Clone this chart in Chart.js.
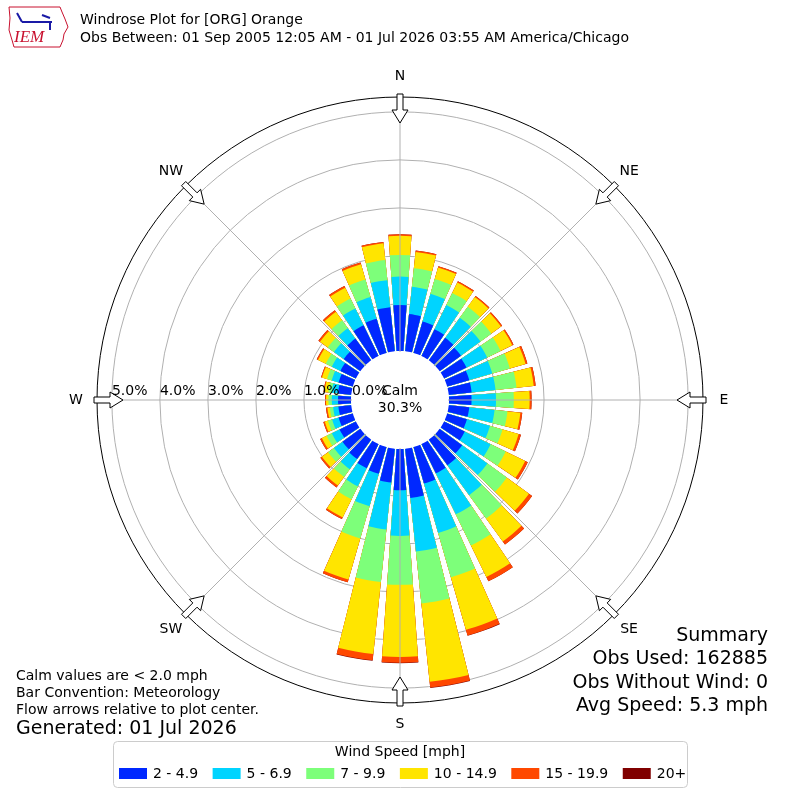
<!DOCTYPE html>
<html>
<head>
<meta charset="utf-8">
<title>Windrose Plot for [ORG] Orange</title>
<script src="https://cdn.jsdelivr.net/npm/chart.js@4.4.0/dist/chart.umd.min.js"></script>
<style>
  html, body { margin: 0; padding: 0; background: #fff; }
</style>
</head>
<body>
<canvas id="rose" width="800" height="800"></canvas>
<script>
// bar directions, degrees clockwise from north
const directions = [0, 10, 20, 30, 40, 50, 60, 70, 80, 90, 100, 110, 120, 130, 140, 150, 160, 170,
  180, 190, 200, 210, 220, 230, 240, 250, 260, 270, 280, 290, 300, 310, 320, 330, 340, 350]

const speedBins = ['2 - 4.9', '5 - 6.9', '7 - 9.9', '10 - 14.9', '15 - 19.9', '20+']
const binColors = ['#0028ff', '#00d4ff', '#7dff7a', '#ffe500', '#ff4800', '#800000']

// percent of all obs, per direction, one list per speed bin
const pct2to5 = [0.98, 0.80, 0.70, 0.64, 0.60, 0.57, 0.54, 0.50, 0.50, 0.49, 0.45, 0.45, 0.50, 0.60, 0.68, 0.70, 0.81, 1.05,
  0.88, 0.73, 0.60, 0.58, 0.52, 0.48, 0.40, 0.33, 0.29, 0.29, 0.30, 0.33, 0.38, 0.45, 0.58, 0.73, 0.76, 0.94]
const pct5to7 = [0.59, 0.57, 0.60, 0.56, 0.52, 0.50, 0.48, 0.50, 0.50, 0.51, 0.53, 0.50, 0.60, 0.65, 0.77, 0.95, 1.07, 1.12,
  0.95, 0.98, 0.70, 0.42, 0.26, 0.22, 0.18, 0.14, 0.11, 0.13, 0.13, 0.15, 0.20, 0.25, 0.27, 0.39, 0.47, 0.57]
const pct7to10 = [0.45, 0.39, 0.32, 0.28, 0.28, 0.28, 0.31, 0.38, 0.44, 0.37, 0.27, 0.27, 0.35, 0.50, 0.60, 0.72, 0.96, 1.09,
  1.02, 1.10, 0.70, 0.30, 0.20, 0.15, 0.12, 0.09, 0.07, 0.07, 0.07, 0.10, 0.14, 0.16, 0.20, 0.23, 0.38, 0.42]
const pct10to15 = [0.40, 0.34, 0.25, 0.24, 0.25, 0.25, 0.27, 0.34, 0.36, 0.33, 0.27, 0.35, 0.45, 0.57, 0.59, 0.73, 1.14, 1.64,
  1.50, 1.51, 0.89, 0.42, 0.22, 0.16, 0.11, 0.07, 0.05, 0.05, 0.08, 0.11, 0.18, 0.20, 0.22, 0.25, 0.33, 0.35]
const pct15to20 = [0.03, 0.03, 0.03, 0.03, 0.03, 0.03, 0.03, 0.04, 0.04, 0.04, 0.04, 0.05, 0.06, 0.08, 0.08, 0.10, 0.12, 0.12,
  0.12, 0.13, 0.06, 0.04, 0.05, 0.04, 0.04, 0.03, 0.03, 0.02, 0.02, 0.02, 0.03, 0.04, 0.04, 0.04, 0.04, 0.03]
const pct20up = [0, 0, 0, 0, 0, 0, 0, 0, 0, 0, 0, 0, 0, 0, 0, 0, 0.01, 0.01,
  0.01, 0.01, 0, 0, 0, 0, 0, 0, 0, 0, 0, 0, 0, 0, 0, 0, 0, 0]

const ringTicks = [0, 1, 2, 3, 4, 5]
const axisMax = 5.31
const calmPct = 30.3
const compassLabels = ['N', 'NE', 'E', 'SE', 'S', 'SW', 'W', 'NW']
const compassAngles = [0, 45, 90, 135, 180, 225, 270, 315]

const noteLines = ['Calm values are < 2.0 mph', 'Bar Convention: Meteorology', 'Flow arrows relative to plot center.']
const summaryLines = ['Summary', 'Obs Used: 162885', 'Obs Without Wind: 0', 'Avg Speed: 5.3 mph']

const FONT = "'DejaVu Sans', sans-serif"

let seriesList = [pct2to5, pct5to7, pct7to10, pct10to15, pct15to20, pct20up]

// running totals so every bin sits on top of the slower ones
let stacked = seriesList.map((s, k) =>
  directions.map((d, i) => seriesList.slice(0, k + 1).reduce((t, arr) => t + arr[i], 0)))

// each bar is followed by an empty slot, that is the white gap between bars
let withGaps = arr => arr.flatMap(v => [v, null])

let datasets = [{
  label: 'Calm',
  data: directions.flatMap(() => [0, 0]),
  backgroundColor: '#ffffff',
  borderColor: '#ffffff',
  borderWidth: 2
}]
stacked.forEach((arr, k) => {
  datasets.push({ label: speedBins[k], data: withGaps(arr), backgroundColor: binColors[k] })
})

let decor = {
  id: 'decor',
  afterDatasetsDraw(chart) {
    const ctx = chart.ctx
    const s = chart.scales.r
    const r0 = s.getDistanceFromCenterForValue(0)
    const r1 = s.getDistanceFromCenterForValue(axisMax)
    ctx.save()
    ctx.strokeStyle = '#b0b0b0'
    ctx.lineWidth = 1
    compassAngles.forEach(a => {
      const t = a * Math.PI / 180
      ctx.beginPath()
      ctx.moveTo(s.xCenter + r0 * Math.sin(t), s.yCenter - r0 * Math.cos(t))
      ctx.lineTo(s.xCenter + r1 * Math.sin(t), s.yCenter - r1 * Math.cos(t))
      ctx.stroke()
    })
    ctx.restore()
  },
  afterDraw(chart) {
    const ctx = chart.ctx
    const s = chart.scales.r
    const cx = s.xCenter, cy = s.yCenter
    const rOut = s.getDistanceFromCenterForValue(axisMax)
    ctx.save()

    // flow arrows on the rim
    compassAngles.forEach(a => {
      const t = a * Math.PI / 180
      const ux = Math.sin(t), uy = -Math.cos(t)
      const px = -uy, py = ux
      const pt = (rad, w) => [cx + ux * rad + px * w, cy + uy * rad + py * w]
      const tail = rOut + 3, neck = rOut - 13, tip = rOut - 26
      const shape = [pt(tail, -3), pt(neck, -3), pt(neck, -8), pt(tip, 0), pt(neck, 8), pt(neck, 3), pt(tail, 3)]
      ctx.beginPath()
      shape.forEach((p, i) => i ? ctx.lineTo(p[0], p[1]) : ctx.moveTo(p[0], p[1]))
      ctx.closePath()
      ctx.fillStyle = '#fff'
      ctx.fill()
      ctx.strokeStyle = '#000'
      ctx.lineWidth = 1
      ctx.stroke()
    })

    ctx.fillStyle = '#000'
    ctx.font = '14px ' + FONT
    ctx.textAlign = 'center'
    ctx.textBaseline = 'middle'
    compassLabels.forEach((lab, i) => {
      const t = compassAngles[i] * Math.PI / 180
      ctx.fillText(lab, cx + 324 * Math.sin(t), cy - 324 * Math.cos(t))
    })

    // ring labels along the west axis
    ctx.textAlign = 'left'
    ringTicks.forEach(v => {
      ctx.fillText(v.toFixed(1) + '%', cx - s.getDistanceFromCenterForValue(v), cy - 9)
    })

    ctx.textAlign = 'center'
    ctx.fillText('Calm', cx, cy - 9)
    ctx.fillText(calmPct.toFixed(1) + '%', cx, cy + 8)

    // titles
    ctx.textAlign = 'left'
    ctx.fillText('Windrose Plot for [ORG] Orange', 80, 20)
    ctx.fillText('Obs Between: 01 Sep 2005 12:05 AM - 01 Jul 2026 03:55 AM America/Chicago', 80, 38)

    noteLines.forEach((line, i) => ctx.fillText(line, 16, 676 + i * 17))
    ctx.font = '19px ' + FONT
    ctx.fillText('Generated: 01 Jul 2026', 16, 729)

    ctx.textAlign = 'right'
    summaryLines.forEach((line, i) => ctx.fillText(line, 768, 636 + i * 23.3))

    // legend box
    ctx.beginPath()
    ctx.roundRect(113.5, 741.5, 574, 46, 4)
    ctx.fillStyle = '#fff'
    ctx.fill()
    ctx.strokeStyle = '#cccccc'
    ctx.stroke()
    ctx.fillStyle = '#000'
    ctx.font = '14px ' + FONT
    ctx.textAlign = 'center'
    ctx.fillText('Wind Speed [mph]', 400, 752)
    ctx.textAlign = 'left'
    let x = 119
    speedBins.forEach((lab, i) => {
      ctx.fillStyle = binColors[i]
      ctx.fillRect(x, 768, 28, 11)
      ctx.fillStyle = '#000'
      ctx.fillText(lab, x + 34, 774)
      x += 34 + ctx.measureText(lab).width + 14.5
    })

    // IEM logo
    ctx.beginPath()
    const iowa = [[9, 7], [60, 7], [62, 12], [65, 19], [68, 27], [64, 34], [63, 40], [60, 47], [14, 47], [12, 40], [9, 30], [10, 18]]
    iowa.forEach((p, i) => i ? ctx.lineTo(p[0], p[1]) : ctx.moveTo(p[0], p[1]))
    ctx.closePath()
    ctx.strokeStyle = '#c8102e'
    ctx.lineWidth = 1
    ctx.stroke()
    ctx.strokeStyle = '#1a1aa6'
    ctx.lineWidth = 2
    ctx.beginPath()
    ctx.moveTo(22, 22); ctx.lineTo(52, 22)
    ctx.moveTo(17, 13); ctx.lineTo(22, 22)
    ctx.moveTo(42, 15); ctx.lineTo(50, 18)
    ctx.moveTo(50, 22); ctx.lineTo(50, 30)
    ctx.stroke()
    ctx.fillStyle = '#c8102e'
    ctx.font = 'italic 17px "Liberation Serif", serif'
    ctx.textAlign = 'left'
    ctx.fillText('IEM', 14, 38)
    ctx.restore()
  }
}

let chart = new Chart(document.getElementById('rose'), {
  type: 'polarArea',
  data: {
    labels: directions.flatMap(d => [d + '°', '']),
    datasets: datasets
  },
  options: {
    responsive: false,
    animation: false,
    layout: { padding: 97 },
    elements: {
      arc: {
        borderWidth: 0,
        angle: c => (c.dataIndex % 2 ? 2 : 8)
      }
    },
    plugins: {
      legend: { display: false },
      tooltip: { enabled: false }
    },
    scales: {
      r: {
        min: -1,
        max: axisMax,
        startAngle: -4,
        afterBuildTicks: sc => { sc.ticks = ringTicks.concat([axisMax]).map(v => ({ value: v })) },
        ticks: { display: false, z: 1 },
        grid: {
          circular: true,
          lineWidth: 1,
          color: c => (c.tick && (c.tick.value === 0 || c.tick.value === axisMax)) ? '#000000' : '#b0b0b0'
        },
        angleLines: { display: false },
        pointLabels: { display: false }
      }
    }
  },
  plugins: [decor]
})
</script>
</body>
</html>
